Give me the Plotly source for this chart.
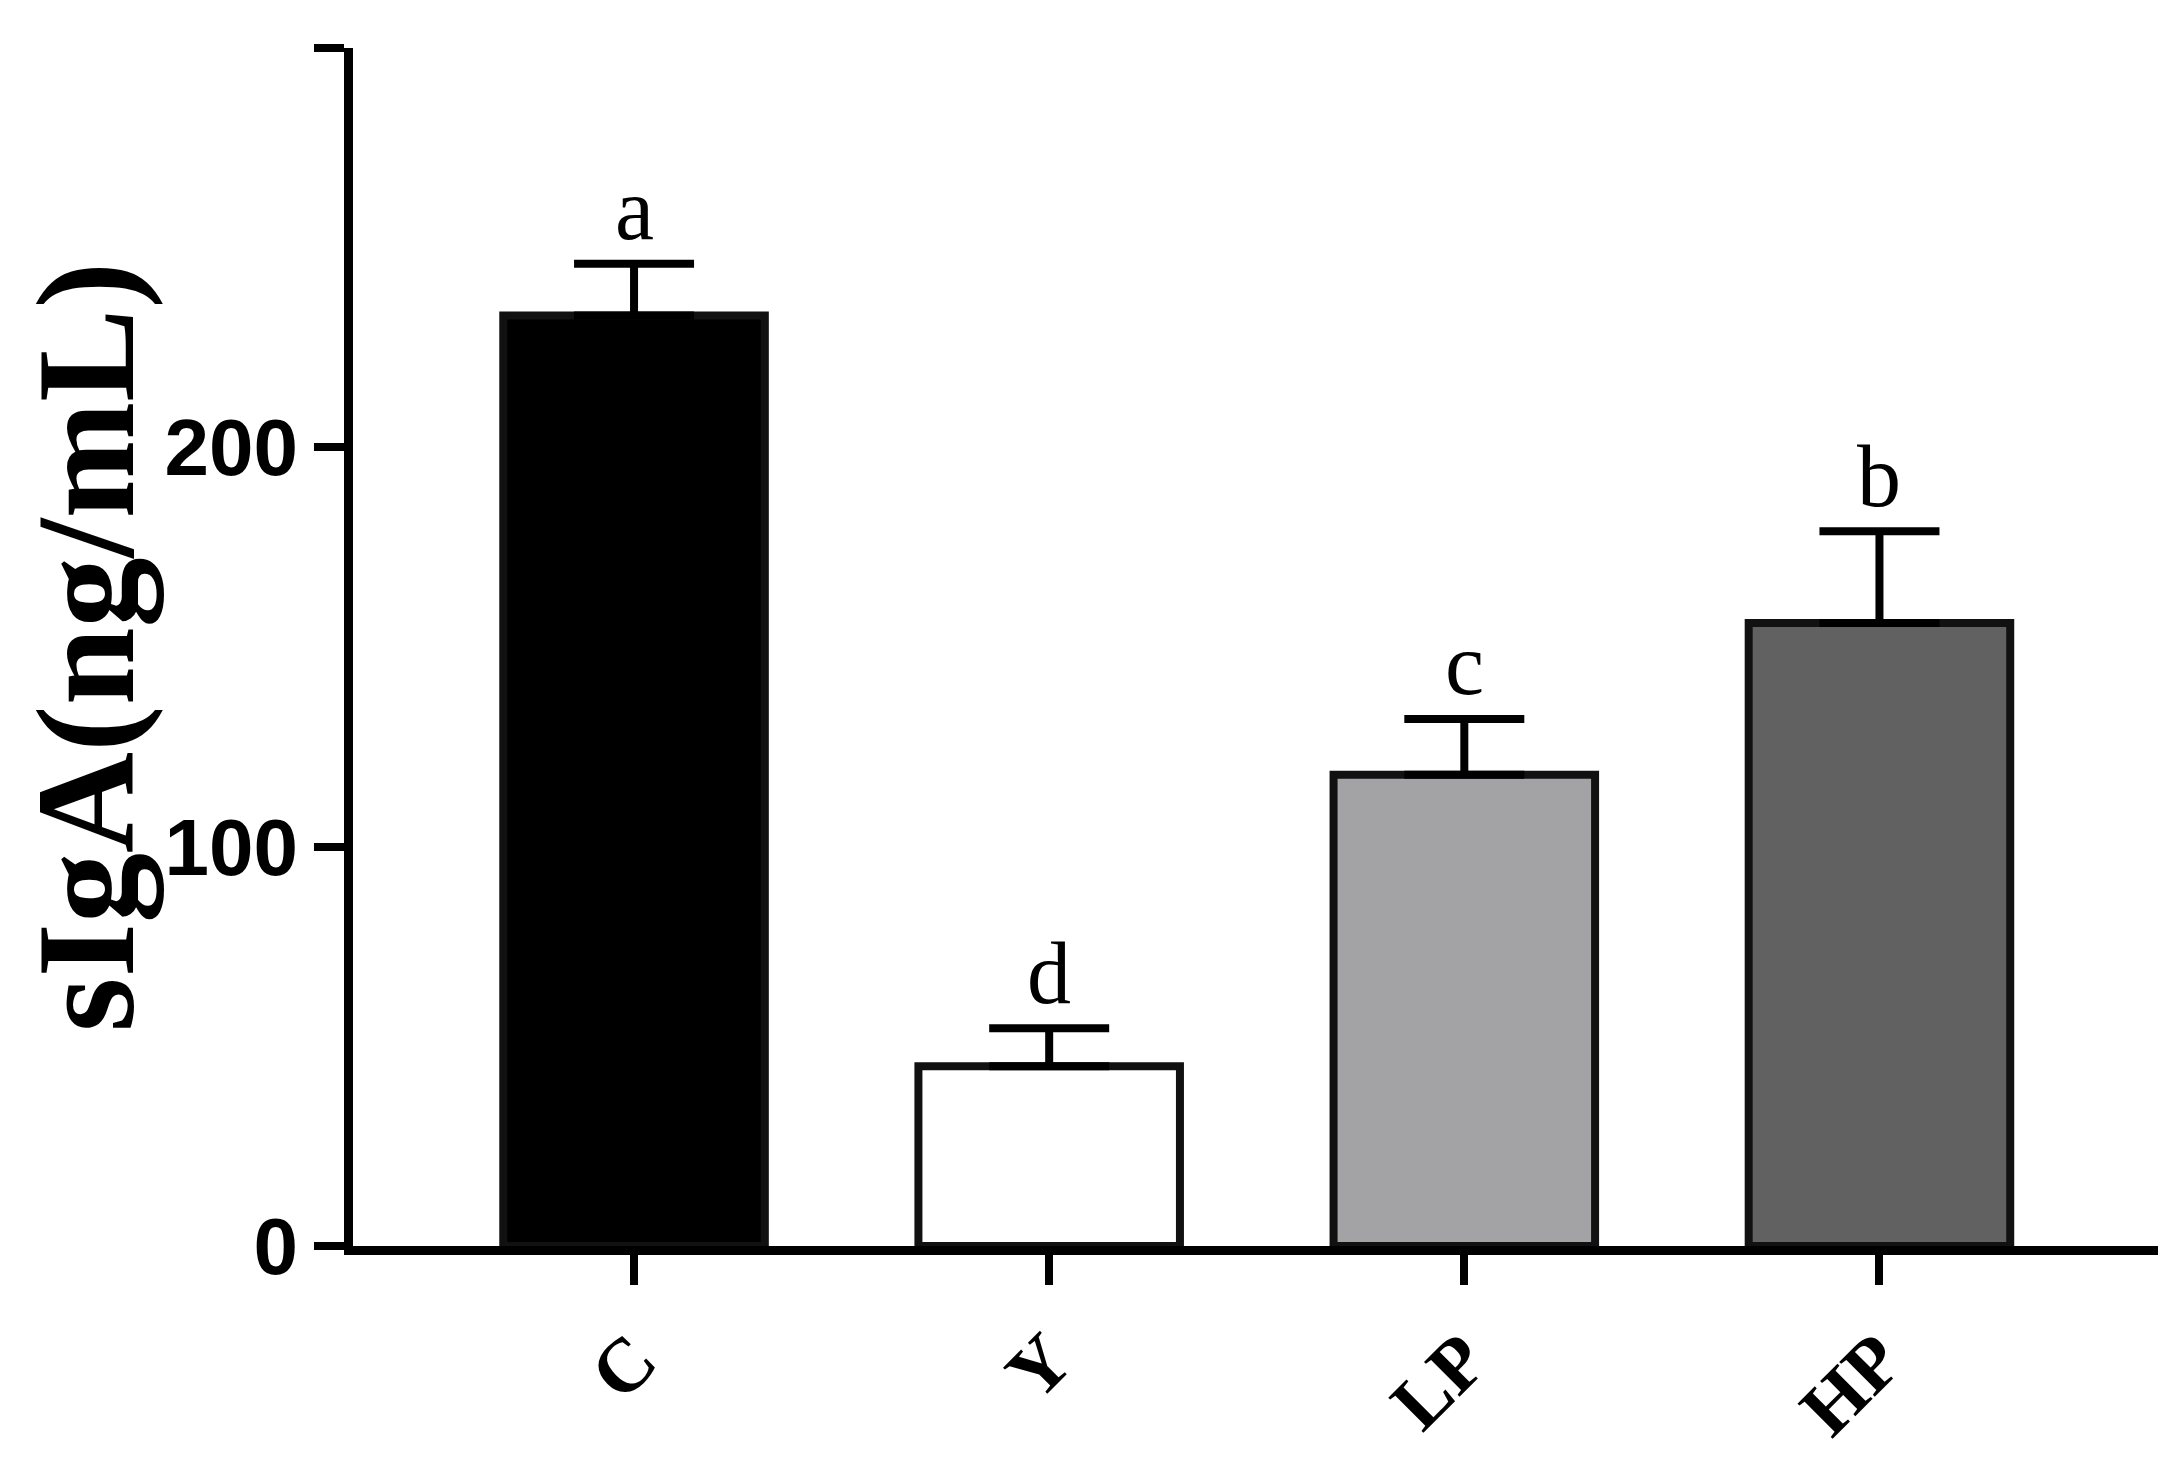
import plotly.graph_objects as go

categories = ["C", "Y", "LP", "HP"]
means = [233, 45, 118, 156]
errors = [13, 9.5, 14, 23]
letters = ["a", "d", "c", "b"]
colors = ["#000000", "#ffffff", "#a3a3a6", "#616161"]
y_ticks = [0, 100, 200, 300]

xs = list(range(len(categories)))
fig = go.Figure()
fig.add_trace(go.Bar(
    x=xs, y=means, width=0.63,
    marker=dict(color=colors, line=dict(color="#111", width=8)),
    error_y=dict(type="data", array=errors, arrayminus=[0]*4, symmetric=False,
                 color="#000", thickness=8, width=60),
))
for x, m, e, l in zip(xs, means, errors, letters):
    fig.add_annotation(x=x, y=m + e, text=l, showarrow=False, yanchor="bottom", yshift=4,
                       font=dict(family="Liberation Serif", size=88, color="#000"))
fig.update_layout(
    width=2166, height=1460, plot_bgcolor="white", paper_bgcolor="white",
    margin=dict(l=345, r=11, t=40, b=222), showlegend=False,
    xaxis=dict(range=[-0.677, 3.683], tickvals=xs, ticktext=categories, tickangle=-45,
               showline=True, linecolor="#000", linewidth=9, ticks="outside",
               ticklen=30, tickwidth=8, tickcolor="#000", showgrid=False, zeroline=False,
               tickfont=dict(family="Liberation Serif", size=76, color="#000", weight="bold")),
    yaxis=dict(range=[0, 300], tickvals=y_ticks, showline=True, linecolor="#000", linewidth=9,
               ticks="outside", ticklen=30, tickwidth=8, tickcolor="#000", showgrid=False,
               zeroline=False,
               tickfont=dict(family="Liberation Sans", size=80, color="#000", weight="bold"),
               title=dict(text="sIgA(ng/mL)", standoff=15,
                          font=dict(family="Liberation Serif", size=140, color="#000", weight="bold"))),
)
fig.write_html("out.html")
